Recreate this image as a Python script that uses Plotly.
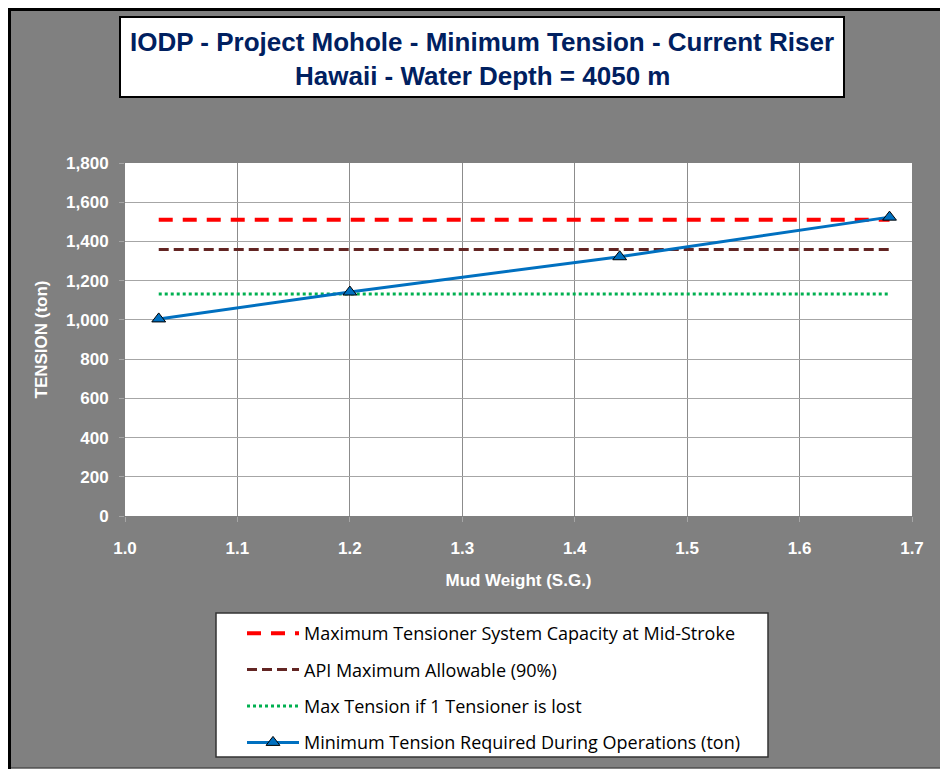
import plotly.graph_objects as go

# ---------------- data ----------------
mud_weight = [1.03, 1.20, 1.44, 1.68]
min_tension = [1005, 1142, 1322, 1524]

limit_x = [1.03, 1.68]
tensioner_capacity = [1510, 1510]
api_allowable = [1359, 1359]
one_tensioner_lost = [1132, 1132]

series_names = [
    "Maximum Tensioner System Capacity at Mid-Stroke",
    "API Maximum Allowable (90%)",
    "Max Tension if 1 Tensioner is lost",
    "Minimum Tension Required During Operations (ton)",
]

x_ticks = [1.0, 1.1, 1.2, 1.3, 1.4, 1.5, 1.6, 1.7]
y_ticks = [0, 200, 400, 600, 800, 1000, 1200, 1400, 1600, 1800]

title_line1 = "IODP - Project Mohole - Minimum Tension - Current Riser"
title_line2 = "Hawaii - Water Depth = 4050 m"
x_title = "Mud Weight (S.G.)"
y_title = "TENSION (ton)"

# ---------------- layout geometry ----------------
# page body has an 8px margin; targets below are window pixels
OFF = 8
W, H = 940, 761
PLOT_L, PLOT_R, PLOT_T, PLOT_B = 125, 912, 163, 516  # window px
L = PLOT_L - OFF
T = PLOT_T - OFF
R = W - (PLOT_R - OFF)
B = H - (PLOT_B - OFF)
PW, PH = W - L - R, H - T - B


def px(x):
    return (x - OFF - L) / PW


def py(y):
    return (H - B - (y - OFF)) / PH


GRAY = "#808080"
fig = go.Figure()

fig.add_trace(go.Scatter(
    x=limit_x, y=tensioner_capacity, mode="lines", name=series_names[0],
    line=dict(color="#FF0000", width=4, dash="14px,10px"), legendgroup="a"))
fig.add_trace(go.Scatter(
    x=limit_x, y=api_allowable, mode="lines", name=series_names[1],
    line=dict(color="#632523", width=3, dash="10px,5px"), legendgroup="b"))
fig.add_trace(go.Scatter(
    x=limit_x, y=one_tensioner_lost, mode="lines", name=series_names[2],
    line=dict(color="#00B050", width=3, dash="3px,3px"), legendgroup="c"))
fig.add_trace(go.Scatter(
    x=mud_weight, y=min_tension, mode="lines+markers", name=series_names[3],
    line=dict(color="#0070C0", width=3),
    marker=dict(symbol="triangle-up", size=12, color="#0070C0",
                line=dict(color="black", width=1)), legendgroup="d"))

shapes = [
    # black frame on left/top, thin line at bottom
    dict(type="line", xref="paper", yref="paper", x0=px(OFF + 1.5), x1=px(OFF + 1.5),
         y0=py(OFF), y1=py(H + OFF + 5),
         line=dict(color="black", width=3), layer="above"),
    dict(type="line", xref="paper", yref="paper", x0=px(OFF), x1=px(W + OFF + 5),
         y0=py(OFF + 1.5), y1=py(OFF + 1.5),
         line=dict(color="black", width=3), layer="above"),
    dict(type="line", xref="paper", yref="paper", x0=px(OFF + 3), x1=px(W + OFF + 5),
         y0=py(767.5), y1=py(767.5),
         line=dict(color="#595959", width=1), layer="above"),
    # title box
    dict(type="rect", xref="paper", yref="paper", x0=px(120), x1=px(844), y0=py(97), y1=py(17),
         fillcolor="white", line=dict(color="black", width=2), layer="above"),
    # legend box
    dict(type="rect", xref="paper", yref="paper", x0=px(216), x1=px(768), y0=py(757), y1=py(613),
         fillcolor="white", line=dict(color="#333333", width=1.5), layer="above"),
]

annotations = [
    dict(text=f"<b>{title_line1}</b>", xref="paper", yref="paper", x=px(482), y=py(42),
         xanchor="center", yanchor="middle", showarrow=False,
         font=dict(family="Liberation Sans", size=26, color="#002060")),
    dict(text=f"<b>{title_line2}</b>", xref="paper", yref="paper", x=px(482), y=py(76),
         xanchor="center", yanchor="middle", showarrow=False,
         font=dict(family="Liberation Sans", size=26, color="#002060")),
]

fig.update_layout(
    width=W, height=H,
    margin=dict(l=L, r=R, t=T, b=B, autoexpand=False),
    paper_bgcolor=GRAY, plot_bgcolor="white",
    shapes=shapes, annotations=annotations,
    showlegend=True,
    legend=dict(x=px(242), y=py(615), xanchor="left", yanchor="top",
                bgcolor="rgba(0,0,0,0)", borderwidth=0,
                font=dict(family="Open Sans", size=18, color="black"),
                itemwidth=52, tracegroupgap=10, traceorder="grouped"),
    font=dict(family="Liberation Sans"),
)

fig.update_xaxes(
    range=[1.0, 1.7], tickvals=x_ticks, tickformat=".1f",
    showgrid=True, gridcolor="#8C8C8C", gridwidth=1, zeroline=False, showline=False,
    ticks="outside", ticklen=5, tickcolor="#A6A6A6", ticklabelstandoff=12,
    tickfont=dict(family="Liberation Sans", size=17, color="white", weight="bold"),
    title=dict(text=x_title, standoff=16,
               font=dict(family="Liberation Sans", size=17, color="white", weight="bold")),
)
fig.update_yaxes(
    range=[0, 1800], tickvals=y_ticks, tickformat=",d",
    showgrid=True, gridcolor="#A6A6A6", gridwidth=1, zeroline=False, showline=False,
    ticks="outside", ticklen=5, tickcolor="#A6A6A6", ticklabelstandoff=7,
    tickfont=dict(family="Liberation Sans", size=17, color="white", weight="bold"),
    title=dict(text=y_title, standoff=14,
               font=dict(family="Liberation Sans", size=17, color="white", weight="bold")),
)

fig.write_html("out.html")
